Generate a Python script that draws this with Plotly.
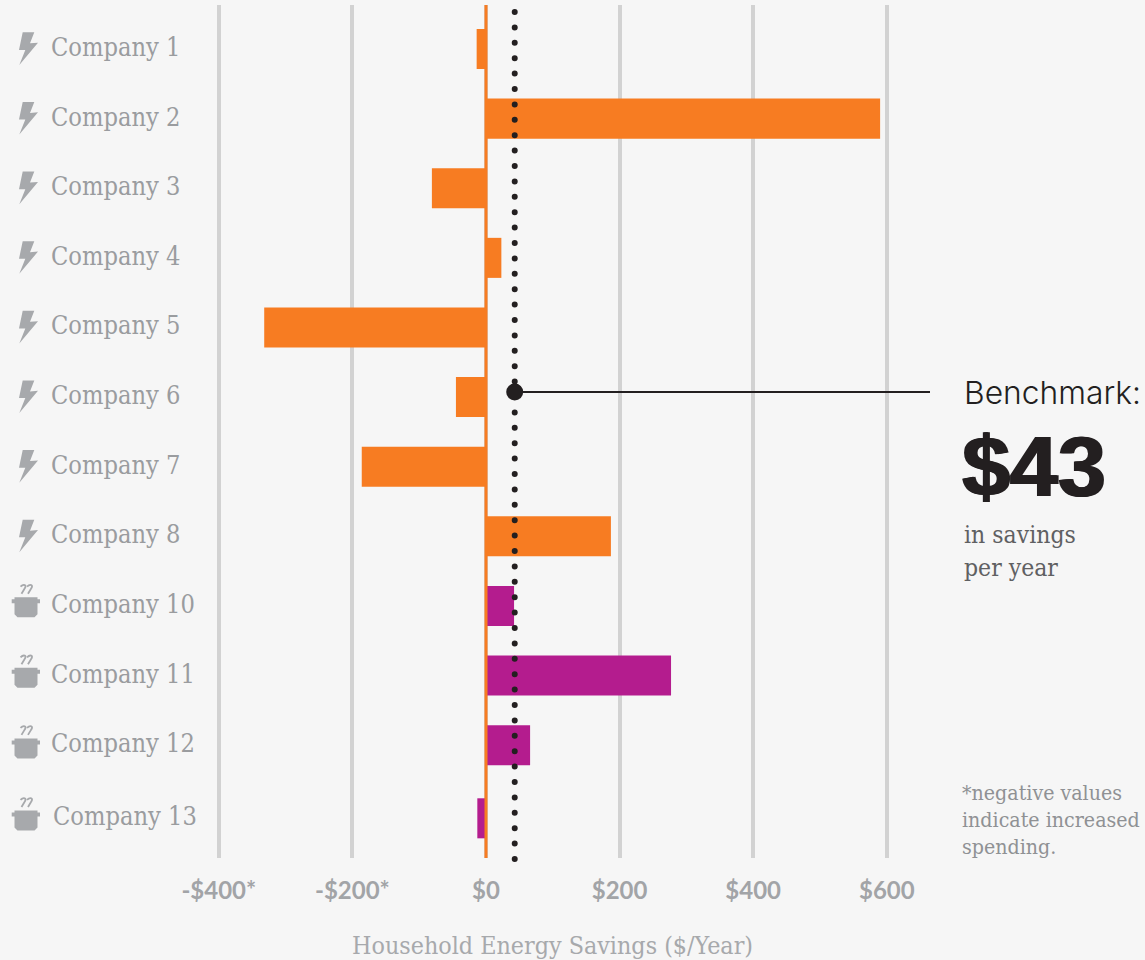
import plotly.graph_objects as go

companies = ["Company 1", "Company 2", "Company 3", "Company 4", "Company 5", "Company 6",
             "Company 7", "Company 8", "Company 10", "Company 11", "Company 12", "Company 13"]
savings = [-14, 590, -81, 23, -332, -45, -186, 187, 42, 277, 66, -13]
sectors = ["electric"] * 8 + ["gas"] * 4
benchmark = 43
tick_vals = [-400, -200, 0, 200, 400, 600]
tick_text = ["-$400*", "-$200*", "$0", "$200", "$400", "$600"]

ORANGE = "#f77c22"
MAGENTA = "#b41c8e"
GREY = "#a7a9ac"
LABEL = "#9a9c9f"
BG = "#f6f6f6"
DARK = "#231f20"
SERIF = "DejaVu Serif Condensed, DejaVu Serif, serif"
W, H = 1145, 960
PX = 0.668

BOLT = [(22.7, -16.7), (34.3, -16.7), (30, -5.7), (38, -6.3), (19.3, 16), (25.3, 1), (19, 1)]
POT_BODY = [(14.5, -8), (37.5, -8), (37.5, -6), (40, -6), (40, -2), (37.5, -2), (37.5, 9),
            (34.5, 12), (17.5, 12), (14.5, 9), (14.5, -2), (11.7, -2), (11.7, -6), (14.5, -6)]
POT_NUDGE = {8: 0, 9: 1, 10: 2, 11: 4.4}


def poly(points, dy=0):
    return "M" + " L".join(f"{x},{-(y + dy)}" for x, y in points) + " Z"


bar_offsets = [-0.2875] * 11 + [-0.2375]
fig = go.Figure()
fig.add_trace(go.Bar(
    y=companies, x=savings, orientation="h", width=0.575, offset=bar_offsets,
    marker=dict(color=[ORANGE if s == "electric" else MAGENTA for s in sectors], line=dict(width=0)),
    hoverinfo="x+y", showlegend=False,
))

shapes = [
    dict(type="line", xref="x", yref="paper", x0=0, x1=0, y0=1 - 858 / H, y1=1 - 5 / H,
         line=dict(color=ORANGE, width=3), layer="above"),
    dict(type="line", xref="x", yref="paper", x0=benchmark, x1=benchmark, y0=1 - 859 / H, y1=1 - 4 / H,
         line=dict(color=DARK, width=6, dash="0px,15.4px"), layer="above"),
    dict(type="line", xref="x", yref="paper", x0=benchmark, x1=(930 - 486) / PX, y0=1 - 392 / H, y1=1 - 392 / H,
         line=dict(color=DARK, width=2), layer="above"),
    dict(type="circle", xref="x", yref="paper", xsizemode="pixel", ysizemode="pixel",
         xanchor=benchmark, yanchor=1 - 392 / H, x0=-8.5, x1=8.5, y0=-8.5, y1=8.5,
         fillcolor=DARK, line=dict(width=0), layer="above"),
]
annotations = []
for i, (name, sector) in enumerate(zip(companies, sectors)):
    extra = 3.5 if i == 11 else 0
    label_dx = 2 if i == 11 else 0
    annotations.append(dict(
        text=name, xref="paper", yref="y", x=(49 + label_dx) / W, y=i, yshift=1.5 - extra,
        xanchor="left", yanchor="middle", showarrow=False,
        font=dict(family=SERIF, size=25.2, color=LABEL),
    ))
    if sector == "electric":
        shapes.append(dict(type="path", xref="paper", yref="y", xsizemode="pixel", ysizemode="pixel",
                           xanchor=0, yanchor=i, path=poly(BOLT), fillcolor=GREY, line=dict(width=0), layer="above"))
    else:
        nudge = POT_NUDGE[i] - 0.8
        shapes.append(dict(type="path", xref="paper", yref="y", xsizemode="pixel", ysizemode="pixel",
                           xanchor=0, yanchor=i, path=poly(POT_BODY, nudge), fillcolor=GREY, line=dict(width=0), layer="above"))
        for sx in (20.5, 27):
            y0 = 19.5 - nudge
            steam = (f"M{sx},{y0 - 1} C{sx + 3},{y0 + 2} {sx + 7},{y0 + 1} {sx + 4},{y0 - 3} L{sx + 1},{y0 - 8}")
            shapes.append(dict(type="path", xref="paper", yref="y", xsizemode="pixel", ysizemode="pixel",
                               xanchor=0, yanchor=i, path=steam, line=dict(color=GREY, width=1.8), layer="above"))


def note(text, x, y, size, color, family=SERIF, xanchor="left", **font):
    annotations.append(dict(text=text, xref="paper", yref="paper", x=x / W, y=1 - y / H, xanchor=xanchor,
                            yanchor="middle", showarrow=False, font=dict(family=family, size=size, color=color, **font)))


note("Household Energy Savings ($/Year)", 552, 945, 24.8, GREY, xanchor="center")
note("Benchmark:", 962, 392, 31.8, DARK, family="Inter", weight=300)
note("$43", 960, 466, 86, DARK, family="Liberation Sans", weight="bold",
     shadow="1.5px 0 0 #231f20, -1px 0 0 #231f20")
note("in savings", 962, 534, 24.5, "#5f6062")
note("per year", 962, 567, 24.5, "#5f6062")
note("*negative values", 960, 792, 21.2, "#8f9194")
note("indicate increased", 960, 819, 21.2, "#8f9194")
note("spending.", 960, 846, 21.2, "#8f9194")

fig.update_layout(
    width=W, height=H, margin=dict(l=0, r=0, t=0, b=0), autosize=False,
    paper_bgcolor=BG, plot_bgcolor=BG, shapes=shapes, annotations=annotations, showlegend=False,
    xaxis=dict(range=[-486 / PX, (W - 486) / PX], tickvals=tick_vals, ticktext=tick_text, showgrid=True,
               gridcolor="#d2d2d2", gridwidth=4, zeroline=False, showline=False, ticks="outside",
               ticklen=11, tickcolor="rgba(0,0,0,0)", anchor="y",
               tickfont=dict(family="Lato", size=24, color="#a2a4a7", weight="bold")),
    yaxis=dict(domain=[1 - 858 / H, 1 - 5 / H], range=[11.62, -0.632], type="category",
               categoryorder="array", categoryarray=companies, showticklabels=False, showgrid=False,
               zeroline=False, showline=False, ticks=""),
)
fig.write_html("out.html", config=dict(displayModeBar=False),
               post_script="document.body.style.margin='0';document.querySelectorAll('.shapelayer path').forEach(function(p){if((p.style.strokeDasharray||'').indexOf('15.4')>=0){p.style.strokeLinecap='round';}});")
